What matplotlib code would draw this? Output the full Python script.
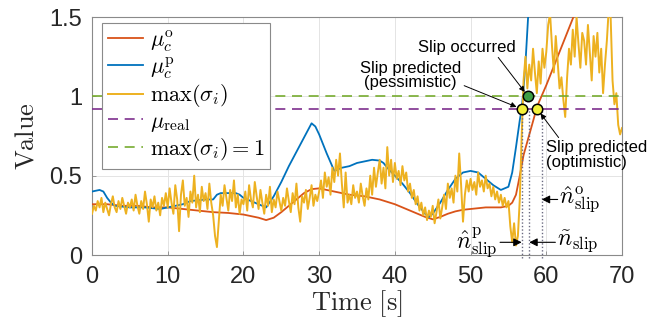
import numpy as np
import matplotlib
matplotlib.use("Agg")
import matplotlib.pyplot as plt

plt.rcParams['font.family'] = ['Liberation Sans', 'DejaVu Sans']
plt.rcParams['mathtext.fontset'] = 'cm'

# ---------------- data ----------------
t_red = [0, 2, 4, 6, 8, 10, 12, 14, 16, 18, 20, 22, 23, 24, 25, 26, 27, 28, 29, 30,
         31, 32, 33, 34, 35, 36, 37, 38, 39, 40, 41, 42, 43, 44, 45, 46, 47, 48, 49, 50,
         51, 52, 53, 54, 55, 55.5, 56, 56.5, 57, 58, 58.7, 59, 60, 61, 62, 63, 64, 65]
mu_o = [0.32, 0.32, 0.31, 0.31, 0.30, 0.30, 0.29, 0.28, 0.27, 0.265, 0.255, 0.235, 0.22, 0.235,
        0.27, 0.31, 0.35, 0.39, 0.415, 0.42, 0.41, 0.40, 0.39, 0.38, 0.375, 0.37, 0.36, 0.35,
        0.335, 0.32, 0.30, 0.28, 0.26, 0.24, 0.225, 0.24, 0.26, 0.275, 0.285, 0.29, 0.295,
        0.30, 0.30, 0.30, 0.31, 0.33, 0.38, 0.50, 0.63, 0.80, 0.92, 0.96, 1.07, 1.19, 1.31,
        1.43, 1.55, 1.67]

t_blue = [0, 1, 1.5, 2, 2.5, 3, 5, 7, 9, 10, 12, 13, 15, 16, 16.5, 17, 19, 19.5, 20, 21, 22,
          23, 24, 25, 26, 27, 28, 29, 29.5, 30, 31, 32, 32.5, 33, 34, 35, 36, 37, 38, 38.5,
          39, 40, 41, 42, 43, 44, 44.5, 45, 46, 47, 48, 49, 50, 51, 52, 53, 54, 55, 55.5,
          56, 56.5, 56.75, 57, 57.3, 57.6, 58]
mu_p = [0.40, 0.41, 0.40, 0.36, 0.33, 0.31, 0.30, 0.30, 0.29, 0.30, 0.32, 0.34, 0.35, 0.35,
        0.38, 0.39, 0.39, 0.38, 0.36, 0.34, 0.32, 0.30, 0.37, 0.46, 0.56, 0.65, 0.74, 0.83,
        0.81, 0.76, 0.64, 0.53, 0.54, 0.55, 0.56, 0.58, 0.59, 0.60, 0.595, 0.58, 0.55, 0.50,
        0.45, 0.39, 0.32, 0.26, 0.24, 0.26, 0.33, 0.41, 0.48, 0.52, 0.53, 0.52, 0.48, 0.44,
        0.41, 0.43, 0.52, 0.68, 0.85, 0.92, 1.05, 1.25, 1.50, 1.80]

t_sig = np.arange(0, 70.001, 0.25)
max_sigma = [
    0.26, 0.31, 0.28, 0.34, 0.30, 0.36, 0.27, 0.33, 0.29, 0.25, 0.32, 0.37, 0.30, 0.27, 0.34, 0.29, 0.36, 0.31, 0.26, 0.33,
    0.30, 0.35, 0.28, 0.38, 0.31, 0.26, 0.34, 0.29, 0.40, 0.32, 0.21, 0.35, 0.30, 0.37, 0.28, 0.33, 0.25, 0.36, 0.31, 0.39,
    0.30, 0.42, 0.33, 0.26, 0.44, 0.35, 0.15, 0.38, 0.47, 0.31, 0.36, 0.24, 0.40, 0.33, 0.50, 0.30, 0.38, 0.27, 0.43, 0.34,
    0.39, 0.29, 0.45, 0.33, 0.25, 0.12, 0.05, 0.22, 0.38, 0.31, 0.44, 0.36, 0.28, 0.41, 0.34, 0.47, 0.30, 0.38, 0.26, 0.35,
    0.32, 0.40, 0.28, 0.44, 0.35, 0.30, 0.46, 0.37, 0.29, 0.41, 0.33, 0.26, 0.38, 0.31, 0.43, 0.27, 0.35, 0.30, 0.40, 0.34,
    0.28, 0.36, 0.31, 0.42, 0.34, 0.27, 0.39, 0.32, 0.45, 0.30, 0.21, 0.37, 0.33, 0.41, 0.29, 0.36, 0.44, 0.31, 0.38, 0.34,
    0.40, 0.47, 0.36, 0.52, 0.43, 0.49, 0.38, 0.55, 0.46, 0.60, 0.50, 0.64, 0.45, 0.30, 0.52, 0.33, 0.38, 0.32, 0.44, 0.36,
    0.40, 0.33, 0.45, 0.37, 0.31, 0.42, 0.35, 0.50, 0.38, 0.55, 0.43, 0.52, 0.60, 0.45, 0.55, 0.42, 0.68, 0.50, 0.60, 0.46,
    0.58, 0.48, 0.53, 0.44, 0.56, 0.47, 0.52, 0.40, 0.45, 0.36, 0.41, 0.32, 0.37, 0.28, 0.33, 0.25, 0.30, 0.22, 0.28, 0.24,
    0.31, 0.20, 0.27, 0.35, 0.23, 0.30, 0.38, 0.29, 0.45, 0.36, 0.42, 0.33, 0.50, 0.40, 0.64, 0.44, 0.21, 0.38, 0.47, 0.40,
    0.48, 0.41, 0.46, 0.38, 0.52, 0.43, 0.47, 0.40, 0.50, 0.42, 0.45, 0.37, 0.43, 0.35, 0.40, 0.33, 0.38, 0.31, 0.36, 0.30,
    0.34, 0.18, 0.08, 0.20, 0.06, 0.12, 0.35, 0.75, 1.10, 1.25, 1.05, 1.20, 1.10, 1.30, 1.15, 1.02, 1.22, 1.08, 1.30, 1.18,
    1.28, 1.45, 1.52, 1.32, 1.15, 1.38, 1.22, 1.05, 1.12, 0.98, 0.87, 1.12, 1.30, 1.20, 1.42, 1.25, 1.50, 1.33, 1.18, 1.40,
    1.35, 1.20, 1.45, 1.28, 1.10, 1.38, 1.25, 1.40, 1.15, 1.30, 1.02, 1.20, 1.35, 1.55, 1.50, 1.10, 0.95, 1.02, 0.82, 0.76,
    0.80]

mu_real = 0.92
sigma_limit = 1.0

slip_lines = [56.75, 57.75, 59.4]           # n^p, n~, n^o
t_pess, t_occ, t_opt = 56.75, 57.6, 58.8    # marker times
xticks = [0, 10, 20, 30, 40, 50, 60, 70]
yticks = [0, 0.5, 1, 1.5]
ytick_labels = ['0', '0.5', '1', '1.5']

# ---------------- plot ----------------
C_RED = '#D95319'
C_BLUE = '#0072BD'
C_YEL = '#EDB120'
C_PUR = '#7E2F8E'
C_GRN = '#77AC30'

fig = plt.figure(figsize=(6.58, 3.22), dpi=100)
ax = fig.add_axes([92/658, 1-255/322, 530/658, 238/322])

ax.plot(t_red, mu_o, color=C_RED, lw=1.3, label=r'$\mu_c^{\mathrm{o}}$', zorder=3)
ax.plot(t_blue, mu_p, color=C_BLUE, lw=1.3, label=r'$\mu_c^{\mathrm{p}}$', zorder=3)
ax.plot(t_sig, max_sigma, color=C_YEL, lw=1.4, label=r'$\max(\sigma_i)$', zorder=4)
ax.axhline(mu_real, color=C_PUR, lw=1.2, dashes=(6, 4), label=r'$\mu_{\mathrm{real}}$', zorder=5)
ax.axhline(sigma_limit, color=C_GRN, lw=1.2, dashes=(6, 4), label=r'$\max(\sigma_i) = 1$', zorder=5)

for xl in slip_lines:
    ax.plot([xl, xl], [-0.02, mu_real], color='#6a6a80', lw=1.0, ls=(0, (1, 1.5)),
            zorder=6, clip_on=False)

ax.plot([t_pess, t_opt], [mu_real, mu_real], 'o', ms=7.5, mfc='#F2F03A', mec='k', mew=1.1, zorder=8)
ax.plot([t_occ], [sigma_limit], 'o', ms=7.5, mfc='#3E9E46', mec='k', mew=1.1, zorder=8)

ax.set_xlim(0, 70)
ax.set_ylim(0, 1.5)
ax.set_xticks(xticks)
ax.set_yticks(yticks)
ax.set_yticklabels(ytick_labels)
ax.tick_params(direction='in', length=3, width=0.6, labelsize=17, colors='#8a8a8a',
               labelcolor='#262626')
ax.tick_params(axis='x', pad=8)
ax.tick_params(axis='y', pad=7)
ax.grid(True, color='#e4e4e4', lw=0.7, zorder=0)
ax.set_axisbelow(True)
for s in ax.spines.values():
    s.set_color('#8a8a8a')
    s.set_linewidth(0.8)

ax.set_xlabel(r'$\mathrm{Time\ [s]}$', fontsize=19, color='#262626')
ax.set_ylabel(r'$\mathrm{Value}$', fontsize=19, color='#262626')
ax.xaxis.set_label_coords(0.5, -0.14)
ax.yaxis.set_label_coords(-0.1, 0.5)

leg = ax.legend(loc='upper left', bbox_to_anchor=(0.019, 0.975), borderaxespad=0,
                fontsize=16, handlelength=1.6, handletextpad=0.3, labelspacing=0.08,
                borderpad=0.25, fancybox=False, framealpha=1, edgecolor='#8a8a8a')
leg.get_frame().set_linewidth(0.8)

arrow_kw = dict(arrowstyle='-|>', color='k', lw=0.7, mutation_scale=8, shrinkA=0, shrinkB=4)
ax.annotate('Slip occurred', xy=(t_occ, sigma_limit), xytext=(49.5, 1.31),
            ha='center', va='center', fontsize=12, arrowprops=dict(arrow_kw, relpos=(0.8, 0.0)),
            zorder=9)
ax.annotate('Slip predicted\n(pessimistic)', xy=(t_pess, mu_real), xytext=(42.1, 1.13),
            ha='center', va='center', fontsize=12, linespacing=0.95,
            arrowprops=dict(arrow_kw, relpos=(1.0, 0.2)), zorder=9)
ax.annotate('Slip predicted\n(optimistic)', xy=(t_opt, mu_real), xytext=(59.9, 0.63),
            ha='left', va='center', fontsize=12, linespacing=0.95,
            arrowprops=dict(arrow_kw, relpos=(0.15, 1.0)), annotation_clip=False, zorder=9)

big_kw = dict(arrowstyle='-|>', color='k', lw=0.8, mutation_scale=12, shrinkA=0, shrinkB=0)
ax.annotate('', xy=(slip_lines[0], 0.08), xytext=(53.9, 0.08), arrowprops=big_kw, zorder=9)
ax.text(53.6, 0.08, r'$\hat{n}^{\mathrm{p}}_{\mathrm{slip}}$', ha='right', va='center', fontsize=17)
ax.annotate('', xy=(slip_lines[1], 0.08), xytext=(61.2, 0.08), arrowprops=big_kw, zorder=9)
ax.text(61.4, 0.08, r'$\tilde{n}_{\mathrm{slip}}$', ha='left', va='center', fontsize=17)
ax.annotate('', xy=(slip_lines[2], 0.35), xytext=(61.5, 0.35), arrowprops=big_kw, zorder=9)
ax.text(61.7, 0.35, r'$\hat{n}^{\mathrm{o}}_{\mathrm{slip}}$', ha='left', va='center', fontsize=17)

fig.savefig('out.png', dpi=100)
